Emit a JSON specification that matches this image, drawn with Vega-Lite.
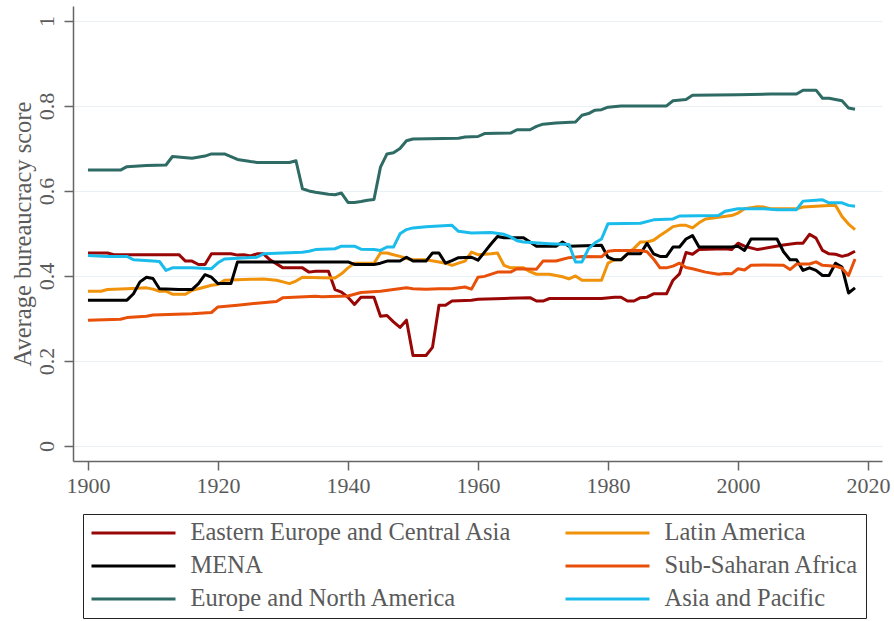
{
  "$schema": "https://vega.github.io/schema/vega-lite/v6.json",
  "width": 809,
  "height": 455,
  "autosize": "none",
  "padding": {"left": 73, "top": 6, "right": 12, "bottom": 160},
  "background": "white",
  "config": {
    "view": {"stroke": null},
    "font": "Liberation Serif"
  },
  "data": {"values": [
    {"region":"Eastern Europe and Central Asia","year":1900,"score":0.454},
    {"region":"Eastern Europe and Central Asia","year":1903,"score":0.454},
    {"region":"Eastern Europe and Central Asia","year":1904,"score":0.45},
    {"region":"Eastern Europe and Central Asia","year":1914,"score":0.45},
    {"region":"Eastern Europe and Central Asia","year":1915,"score":0.435},
    {"region":"Eastern Europe and Central Asia","year":1916,"score":0.435},
    {"region":"Eastern Europe and Central Asia","year":1917,"score":0.427},
    {"region":"Eastern Europe and Central Asia","year":1918,"score":0.427},
    {"region":"Eastern Europe and Central Asia","year":1919,"score":0.452},
    {"region":"Eastern Europe and Central Asia","year":1922,"score":0.452},
    {"region":"Eastern Europe and Central Asia","year":1923,"score":0.449},
    {"region":"Eastern Europe and Central Asia","year":1924,"score":0.45},
    {"region":"Eastern Europe and Central Asia","year":1925,"score":0.447},
    {"region":"Eastern Europe and Central Asia","year":1926,"score":0.452},
    {"region":"Eastern Europe and Central Asia","year":1927,"score":0.452},
    {"region":"Eastern Europe and Central Asia","year":1928,"score":0.438},
    {"region":"Eastern Europe and Central Asia","year":1930,"score":0.419},
    {"region":"Eastern Europe and Central Asia","year":1933,"score":0.419},
    {"region":"Eastern Europe and Central Asia","year":1934,"score":0.409},
    {"region":"Eastern Europe and Central Asia","year":1935,"score":0.411},
    {"region":"Eastern Europe and Central Asia","year":1937,"score":0.411},
    {"region":"Eastern Europe and Central Asia","year":1938,"score":0.368},
    {"region":"Eastern Europe and Central Asia","year":1939,"score":0.362},
    {"region":"Eastern Europe and Central Asia","year":1940,"score":0.35},
    {"region":"Eastern Europe and Central Asia","year":1941,"score":0.333},
    {"region":"Eastern Europe and Central Asia","year":1942,"score":0.35},
    {"region":"Eastern Europe and Central Asia","year":1944,"score":0.35},
    {"region":"Eastern Europe and Central Asia","year":1945,"score":0.305},
    {"region":"Eastern Europe and Central Asia","year":1946,"score":0.307},
    {"region":"Eastern Europe and Central Asia","year":1947,"score":0.292},
    {"region":"Eastern Europe and Central Asia","year":1948,"score":0.279},
    {"region":"Eastern Europe and Central Asia","year":1949,"score":0.296},
    {"region":"Eastern Europe and Central Asia","year":1950,"score":0.213},
    {"region":"Eastern Europe and Central Asia","year":1952,"score":0.213},
    {"region":"Eastern Europe and Central Asia","year":1953,"score":0.232},
    {"region":"Eastern Europe and Central Asia","year":1954,"score":0.331},
    {"region":"Eastern Europe and Central Asia","year":1955,"score":0.331},
    {"region":"Eastern Europe and Central Asia","year":1956,"score":0.341},
    {"region":"Eastern Europe and Central Asia","year":1959,"score":0.343},
    {"region":"Eastern Europe and Central Asia","year":1960,"score":0.345},
    {"region":"Eastern Europe and Central Asia","year":1964,"score":0.347},
    {"region":"Eastern Europe and Central Asia","year":1968,"score":0.349},
    {"region":"Eastern Europe and Central Asia","year":1969,"score":0.341},
    {"region":"Eastern Europe and Central Asia","year":1970,"score":0.341},
    {"region":"Eastern Europe and Central Asia","year":1971,"score":0.347},
    {"region":"Eastern Europe and Central Asia","year":1979,"score":0.347},
    {"region":"Eastern Europe and Central Asia","year":1981,"score":0.35},
    {"region":"Eastern Europe and Central Asia","year":1982,"score":0.35},
    {"region":"Eastern Europe and Central Asia","year":1983,"score":0.341},
    {"region":"Eastern Europe and Central Asia","year":1984,"score":0.341},
    {"region":"Eastern Europe and Central Asia","year":1985,"score":0.349},
    {"region":"Eastern Europe and Central Asia","year":1986,"score":0.35},
    {"region":"Eastern Europe and Central Asia","year":1987,"score":0.358},
    {"region":"Eastern Europe and Central Asia","year":1989,"score":0.358},
    {"region":"Eastern Europe and Central Asia","year":1990,"score":0.39},
    {"region":"Eastern Europe and Central Asia","year":1991,"score":0.405},
    {"region":"Eastern Europe and Central Asia","year":1992,"score":0.455},
    {"region":"Eastern Europe and Central Asia","year":1993,"score":0.451},
    {"region":"Eastern Europe and Central Asia","year":1994,"score":0.462},
    {"region":"Eastern Europe and Central Asia","year":1998,"score":0.464},
    {"region":"Eastern Europe and Central Asia","year":1999,"score":0.462},
    {"region":"Eastern Europe and Central Asia","year":2000,"score":0.477},
    {"region":"Eastern Europe and Central Asia","year":2001,"score":0.47},
    {"region":"Eastern Europe and Central Asia","year":2003,"score":0.462},
    {"region":"Eastern Europe and Central Asia","year":2007,"score":0.473},
    {"region":"Eastern Europe and Central Asia","year":2009,"score":0.477},
    {"region":"Eastern Europe and Central Asia","year":2010,"score":0.477},
    {"region":"Eastern Europe and Central Asia","year":2011,"score":0.498},
    {"region":"Eastern Europe and Central Asia","year":2012,"score":0.489},
    {"region":"Eastern Europe and Central Asia","year":2013,"score":0.46},
    {"region":"Eastern Europe and Central Asia","year":2014,"score":0.452},
    {"region":"Eastern Europe and Central Asia","year":2015,"score":0.451},
    {"region":"Eastern Europe and Central Asia","year":2016,"score":0.446},
    {"region":"Eastern Europe and Central Asia","year":2017,"score":0.45},
    {"region":"Eastern Europe and Central Asia","year":2018,"score":0.458},

    {"region":"Latin America","year":1900,"score":0.364},
    {"region":"Latin America","year":1902,"score":0.364},
    {"region":"Latin America","year":1903,"score":0.368},
    {"region":"Latin America","year":1906,"score":0.37},
    {"region":"Latin America","year":1909,"score":0.372},
    {"region":"Latin America","year":1910,"score":0.369},
    {"region":"Latin America","year":1911,"score":0.364},
    {"region":"Latin America","year":1912,"score":0.364},
    {"region":"Latin America","year":1913,"score":0.357},
    {"region":"Latin America","year":1915,"score":0.357},
    {"region":"Latin America","year":1916,"score":0.366},
    {"region":"Latin America","year":1917,"score":0.37},
    {"region":"Latin America","year":1919,"score":0.378},
    {"region":"Latin America","year":1920,"score":0.38},
    {"region":"Latin America","year":1921,"score":0.39},
    {"region":"Latin America","year":1925,"score":0.392},
    {"region":"Latin America","year":1927,"score":0.393},
    {"region":"Latin America","year":1929,"score":0.39},
    {"region":"Latin America","year":1930,"score":0.386},
    {"region":"Latin America","year":1931,"score":0.382},
    {"region":"Latin America","year":1932,"score":0.388},
    {"region":"Latin America","year":1933,"score":0.397},
    {"region":"Latin America","year":1936,"score":0.396},
    {"region":"Latin America","year":1938,"score":0.395},
    {"region":"Latin America","year":1939,"score":0.405},
    {"region":"Latin America","year":1940,"score":0.419},
    {"region":"Latin America","year":1941,"score":0.43},
    {"region":"Latin America","year":1944,"score":0.43},
    {"region":"Latin America","year":1945,"score":0.454},
    {"region":"Latin America","year":1946,"score":0.454},
    {"region":"Latin America","year":1947,"score":0.45},
    {"region":"Latin America","year":1948,"score":0.446},
    {"region":"Latin America","year":1949,"score":0.441},
    {"region":"Latin America","year":1950,"score":0.438},
    {"region":"Latin America","year":1952,"score":0.438},
    {"region":"Latin America","year":1954,"score":0.433},
    {"region":"Latin America","year":1955,"score":0.43},
    {"region":"Latin America","year":1956,"score":0.425},
    {"region":"Latin America","year":1957,"score":0.43},
    {"region":"Latin America","year":1958,"score":0.435},
    {"region":"Latin America","year":1959,"score":0.456},
    {"region":"Latin America","year":1960,"score":0.45},
    {"region":"Latin America","year":1962,"score":0.452},
    {"region":"Latin America","year":1963,"score":0.454},
    {"region":"Latin America","year":1964,"score":0.425},
    {"region":"Latin America","year":1965,"score":0.419},
    {"region":"Latin America","year":1967,"score":0.419},
    {"region":"Latin America","year":1968,"score":0.41},
    {"region":"Latin America","year":1969,"score":0.404},
    {"region":"Latin America","year":1971,"score":0.404},
    {"region":"Latin America","year":1973,"score":0.398},
    {"region":"Latin America","year":1974,"score":0.393},
    {"region":"Latin America","year":1975,"score":0.4},
    {"region":"Latin America","year":1976,"score":0.39},
    {"region":"Latin America","year":1979,"score":0.39},
    {"region":"Latin America","year":1980,"score":0.43},
    {"region":"Latin America","year":1981,"score":0.438},
    {"region":"Latin America","year":1982,"score":0.438},
    {"region":"Latin America","year":1983,"score":0.452},
    {"region":"Latin America","year":1984,"score":0.465},
    {"region":"Latin America","year":1985,"score":0.48},
    {"region":"Latin America","year":1986,"score":0.48},
    {"region":"Latin America","year":1987,"score":0.484},
    {"region":"Latin America","year":1988,"score":0.495},
    {"region":"Latin America","year":1989,"score":0.505},
    {"region":"Latin America","year":1990,"score":0.516},
    {"region":"Latin America","year":1991,"score":0.519},
    {"region":"Latin America","year":1992,"score":0.519},
    {"region":"Latin America","year":1993,"score":0.513},
    {"region":"Latin America","year":1994,"score":0.525},
    {"region":"Latin America","year":1995,"score":0.534},
    {"region":"Latin America","year":1997,"score":0.538},
    {"region":"Latin America","year":1999,"score":0.542},
    {"region":"Latin America","year":2000,"score":0.548},
    {"region":"Latin America","year":2001,"score":0.558},
    {"region":"Latin America","year":2003,"score":0.563},
    {"region":"Latin America","year":2004,"score":0.562},
    {"region":"Latin America","year":2005,"score":0.558},
    {"region":"Latin America","year":2009,"score":0.558},
    {"region":"Latin America","year":2010,"score":0.562},
    {"region":"Latin America","year":2014,"score":0.566},
    {"region":"Latin America","year":2015,"score":0.566},
    {"region":"Latin America","year":2016,"score":0.54},
    {"region":"Latin America","year":2017,"score":0.522},
    {"region":"Latin America","year":2018,"score":0.509},

    {"region":"MENA","year":1900,"score":0.343},
    {"region":"MENA","year":1906,"score":0.343},
    {"region":"MENA","year":1907,"score":0.358},
    {"region":"MENA","year":1908,"score":0.386},
    {"region":"MENA","year":1909,"score":0.397},
    {"region":"MENA","year":1910,"score":0.394},
    {"region":"MENA","year":1911,"score":0.37},
    {"region":"MENA","year":1914,"score":0.368},
    {"region":"MENA","year":1916,"score":0.368},
    {"region":"MENA","year":1917,"score":0.382},
    {"region":"MENA","year":1918,"score":0.403},
    {"region":"MENA","year":1919,"score":0.397},
    {"region":"MENA","year":1920,"score":0.382},
    {"region":"MENA","year":1922,"score":0.382},
    {"region":"MENA","year":1923,"score":0.433},
    {"region":"MENA","year":1940,"score":0.433},
    {"region":"MENA","year":1941,"score":0.427},
    {"region":"MENA","year":1944,"score":0.427},
    {"region":"MENA","year":1945,"score":0.43},
    {"region":"MENA","year":1946,"score":0.435},
    {"region":"MENA","year":1948,"score":0.435},
    {"region":"MENA","year":1949,"score":0.444},
    {"region":"MENA","year":1950,"score":0.435},
    {"region":"MENA","year":1952,"score":0.435},
    {"region":"MENA","year":1953,"score":0.454},
    {"region":"MENA","year":1954,"score":0.454},
    {"region":"MENA","year":1955,"score":0.43},
    {"region":"MENA","year":1956,"score":0.436},
    {"region":"MENA","year":1957,"score":0.443},
    {"region":"MENA","year":1959,"score":0.444},
    {"region":"MENA","year":1960,"score":0.437},
    {"region":"MENA","year":1961,"score":0.456},
    {"region":"MENA","year":1962,"score":0.475},
    {"region":"MENA","year":1963,"score":0.493},
    {"region":"MENA","year":1964,"score":0.49},
    {"region":"MENA","year":1967,"score":0.49},
    {"region":"MENA","year":1968,"score":0.48},
    {"region":"MENA","year":1969,"score":0.47},
    {"region":"MENA","year":1972,"score":0.47},
    {"region":"MENA","year":1973,"score":0.48},
    {"region":"MENA","year":1974,"score":0.47},
    {"region":"MENA","year":1979,"score":0.472},
    {"region":"MENA","year":1980,"score":0.444},
    {"region":"MENA","year":1981,"score":0.438},
    {"region":"MENA","year":1982,"score":0.438},
    {"region":"MENA","year":1983,"score":0.452},
    {"region":"MENA","year":1985,"score":0.452},
    {"region":"MENA","year":1986,"score":0.477},
    {"region":"MENA","year":1987,"score":0.452},
    {"region":"MENA","year":1988,"score":0.446},
    {"region":"MENA","year":1989,"score":0.446},
    {"region":"MENA","year":1990,"score":0.468},
    {"region":"MENA","year":1991,"score":0.468},
    {"region":"MENA","year":1992,"score":0.487},
    {"region":"MENA","year":1993,"score":0.495},
    {"region":"MENA","year":1994,"score":0.468},
    {"region":"MENA","year":1999,"score":0.468},
    {"region":"MENA","year":2000,"score":0.47},
    {"region":"MENA","year":2001,"score":0.46},
    {"region":"MENA","year":2002,"score":0.487},
    {"region":"MENA","year":2006,"score":0.487},
    {"region":"MENA","year":2007,"score":0.457},
    {"region":"MENA","year":2008,"score":0.438},
    {"region":"MENA","year":2009,"score":0.438},
    {"region":"MENA","year":2010,"score":0.413},
    {"region":"MENA","year":2011,"score":0.419},
    {"region":"MENA","year":2012,"score":0.413},
    {"region":"MENA","year":2013,"score":0.401},
    {"region":"MENA","year":2014,"score":0.401},
    {"region":"MENA","year":2015,"score":0.43},
    {"region":"MENA","year":2016,"score":0.421},
    {"region":"MENA","year":2017,"score":0.36},
    {"region":"MENA","year":2018,"score":0.372},

    {"region":"Sub-Saharan Africa","year":1900,"score":0.296},
    {"region":"Sub-Saharan Africa","year":1905,"score":0.298},
    {"region":"Sub-Saharan Africa","year":1906,"score":0.302},
    {"region":"Sub-Saharan Africa","year":1909,"score":0.305},
    {"region":"Sub-Saharan Africa","year":1910,"score":0.308},
    {"region":"Sub-Saharan Africa","year":1916,"score":0.311},
    {"region":"Sub-Saharan Africa","year":1919,"score":0.314},
    {"region":"Sub-Saharan Africa","year":1920,"score":0.327},
    {"region":"Sub-Saharan Africa","year":1923,"score":0.331},
    {"region":"Sub-Saharan Africa","year":1926,"score":0.336},
    {"region":"Sub-Saharan Africa","year":1929,"score":0.34},
    {"region":"Sub-Saharan Africa","year":1930,"score":0.349},
    {"region":"Sub-Saharan Africa","year":1935,"score":0.352},
    {"region":"Sub-Saharan Africa","year":1936,"score":0.351},
    {"region":"Sub-Saharan Africa","year":1940,"score":0.353},
    {"region":"Sub-Saharan Africa","year":1942,"score":0.361},
    {"region":"Sub-Saharan Africa","year":1945,"score":0.364},
    {"region":"Sub-Saharan Africa","year":1947,"score":0.368},
    {"region":"Sub-Saharan Africa","year":1949,"score":0.372},
    {"region":"Sub-Saharan Africa","year":1950,"score":0.37},
    {"region":"Sub-Saharan Africa","year":1952,"score":0.369},
    {"region":"Sub-Saharan Africa","year":1954,"score":0.37},
    {"region":"Sub-Saharan Africa","year":1956,"score":0.37},
    {"region":"Sub-Saharan Africa","year":1958,"score":0.374},
    {"region":"Sub-Saharan Africa","year":1959,"score":0.369},
    {"region":"Sub-Saharan Africa","year":1960,"score":0.397},
    {"region":"Sub-Saharan Africa","year":1961,"score":0.399},
    {"region":"Sub-Saharan Africa","year":1963,"score":0.409},
    {"region":"Sub-Saharan Africa","year":1965,"score":0.409},
    {"region":"Sub-Saharan Africa","year":1966,"score":0.417},
    {"region":"Sub-Saharan Africa","year":1969,"score":0.416},
    {"region":"Sub-Saharan Africa","year":1970,"score":0.435},
    {"region":"Sub-Saharan Africa","year":1972,"score":0.435},
    {"region":"Sub-Saharan Africa","year":1974,"score":0.443},
    {"region":"Sub-Saharan Africa","year":1976,"score":0.446},
    {"region":"Sub-Saharan Africa","year":1979,"score":0.445},
    {"region":"Sub-Saharan Africa","year":1980,"score":0.458},
    {"region":"Sub-Saharan Africa","year":1981,"score":0.46},
    {"region":"Sub-Saharan Africa","year":1985,"score":0.46},
    {"region":"Sub-Saharan Africa","year":1986,"score":0.457},
    {"region":"Sub-Saharan Africa","year":1987,"score":0.44},
    {"region":"Sub-Saharan Africa","year":1988,"score":0.419},
    {"region":"Sub-Saharan Africa","year":1989,"score":0.419},
    {"region":"Sub-Saharan Africa","year":1990,"score":0.423},
    {"region":"Sub-Saharan Africa","year":1991,"score":0.43},
    {"region":"Sub-Saharan Africa","year":1992,"score":0.42},
    {"region":"Sub-Saharan Africa","year":1993,"score":0.417},
    {"region":"Sub-Saharan Africa","year":1995,"score":0.409},
    {"region":"Sub-Saharan Africa","year":1997,"score":0.404},
    {"region":"Sub-Saharan Africa","year":1998,"score":0.406},
    {"region":"Sub-Saharan Africa","year":1999,"score":0.405},
    {"region":"Sub-Saharan Africa","year":2000,"score":0.417},
    {"region":"Sub-Saharan Africa","year":2001,"score":0.414},
    {"region":"Sub-Saharan Africa","year":2002,"score":0.425},
    {"region":"Sub-Saharan Africa","year":2004,"score":0.426},
    {"region":"Sub-Saharan Africa","year":2007,"score":0.425},
    {"region":"Sub-Saharan Africa","year":2008,"score":0.415},
    {"region":"Sub-Saharan Africa","year":2009,"score":0.428},
    {"region":"Sub-Saharan Africa","year":2011,"score":0.428},
    {"region":"Sub-Saharan Africa","year":2012,"score":0.433},
    {"region":"Sub-Saharan Africa","year":2013,"score":0.425},
    {"region":"Sub-Saharan Africa","year":2015,"score":0.423},
    {"region":"Sub-Saharan Africa","year":2016,"score":0.418},
    {"region":"Sub-Saharan Africa","year":2017,"score":0.401},
    {"region":"Sub-Saharan Africa","year":2018,"score":0.44},

    {"region":"Europe and North America","year":1900,"score":0.649},
    {"region":"Europe and North America","year":1905,"score":0.649},
    {"region":"Europe and North America","year":1906,"score":0.657},
    {"region":"Europe and North America","year":1909,"score":0.66},
    {"region":"Europe and North America","year":1912,"score":0.661},
    {"region":"Europe and North America","year":1913,"score":0.681},
    {"region":"Europe and North America","year":1916,"score":0.677},
    {"region":"Europe and North America","year":1918,"score":0.682},
    {"region":"Europe and North America","year":1919,"score":0.687},
    {"region":"Europe and North America","year":1921,"score":0.687},
    {"region":"Europe and North America","year":1923,"score":0.674},
    {"region":"Europe and North America","year":1925,"score":0.669},
    {"region":"Europe and North America","year":1926,"score":0.667},
    {"region":"Europe and North America","year":1931,"score":0.667},
    {"region":"Europe and North America","year":1932,"score":0.671},
    {"region":"Europe and North America","year":1933,"score":0.605},
    {"region":"Europe and North America","year":1934,"score":0.6},
    {"region":"Europe and North America","year":1935,"score":0.597},
    {"region":"Europe and North America","year":1937,"score":0.592},
    {"region":"Europe and North America","year":1938,"score":0.591},
    {"region":"Europe and North America","year":1939,"score":0.595},
    {"region":"Europe and North America","year":1940,"score":0.573},
    {"region":"Europe and North America","year":1941,"score":0.573},
    {"region":"Europe and North America","year":1942,"score":0.575},
    {"region":"Europe and North America","year":1943,"score":0.578},
    {"region":"Europe and North America","year":1944,"score":0.58},
    {"region":"Europe and North America","year":1945,"score":0.656},
    {"region":"Europe and North America","year":1946,"score":0.687},
    {"region":"Europe and North America","year":1947,"score":0.69},
    {"region":"Europe and North America","year":1948,"score":0.7},
    {"region":"Europe and North America","year":1949,"score":0.718},
    {"region":"Europe and North America","year":1950,"score":0.722},
    {"region":"Europe and North America","year":1957,"score":0.724},
    {"region":"Europe and North America","year":1958,"score":0.727},
    {"region":"Europe and North America","year":1960,"score":0.728},
    {"region":"Europe and North America","year":1961,"score":0.735},
    {"region":"Europe and North America","year":1965,"score":0.736},
    {"region":"Europe and North America","year":1966,"score":0.744},
    {"region":"Europe and North America","year":1968,"score":0.744},
    {"region":"Europe and North America","year":1969,"score":0.752},
    {"region":"Europe and North America","year":1970,"score":0.757},
    {"region":"Europe and North America","year":1972,"score":0.76},
    {"region":"Europe and North America","year":1975,"score":0.762},
    {"region":"Europe and North America","year":1976,"score":0.778},
    {"region":"Europe and North America","year":1977,"score":0.782},
    {"region":"Europe and North America","year":1978,"score":0.79},
    {"region":"Europe and North America","year":1979,"score":0.791},
    {"region":"Europe and North America","year":1980,"score":0.797},
    {"region":"Europe and North America","year":1982,"score":0.8},
    {"region":"Europe and North America","year":1989,"score":0.8},
    {"region":"Europe and North America","year":1990,"score":0.812},
    {"region":"Europe and North America","year":1992,"score":0.815},
    {"region":"Europe and North America","year":1993,"score":0.825},
    {"region":"Europe and North America","year":2000,"score":0.826},
    {"region":"Europe and North America","year":2005,"score":0.828},
    {"region":"Europe and North America","year":2009,"score":0.828},
    {"region":"Europe and North America","year":2010,"score":0.837},
    {"region":"Europe and North America","year":2012,"score":0.837},
    {"region":"Europe and North America","year":2013,"score":0.818},
    {"region":"Europe and North America","year":2014,"score":0.818},
    {"region":"Europe and North America","year":2016,"score":0.812},
    {"region":"Europe and North America","year":2017,"score":0.795},
    {"region":"Europe and North America","year":2018,"score":0.792},

    {"region":"Asia and Pacific","year":1900,"score":0.448},
    {"region":"Asia and Pacific","year":1903,"score":0.446},
    {"region":"Asia and Pacific","year":1906,"score":0.446},
    {"region":"Asia and Pacific","year":1907,"score":0.438},
    {"region":"Asia and Pacific","year":1910,"score":0.435},
    {"region":"Asia and Pacific","year":1911,"score":0.434},
    {"region":"Asia and Pacific","year":1912,"score":0.413},
    {"region":"Asia and Pacific","year":1913,"score":0.419},
    {"region":"Asia and Pacific","year":1916,"score":0.419},
    {"region":"Asia and Pacific","year":1919,"score":0.417},
    {"region":"Asia and Pacific","year":1920,"score":0.431},
    {"region":"Asia and Pacific","year":1921,"score":0.44},
    {"region":"Asia and Pacific","year":1926,"score":0.444},
    {"region":"Asia and Pacific","year":1927,"score":0.452},
    {"region":"Asia and Pacific","year":1933,"score":0.456},
    {"region":"Asia and Pacific","year":1934,"score":0.458},
    {"region":"Asia and Pacific","year":1935,"score":0.462},
    {"region":"Asia and Pacific","year":1938,"score":0.464},
    {"region":"Asia and Pacific","year":1939,"score":0.47},
    {"region":"Asia and Pacific","year":1941,"score":0.47},
    {"region":"Asia and Pacific","year":1942,"score":0.463},
    {"region":"Asia and Pacific","year":1944,"score":0.462},
    {"region":"Asia and Pacific","year":1945,"score":0.46},
    {"region":"Asia and Pacific","year":1946,"score":0.468},
    {"region":"Asia and Pacific","year":1947,"score":0.468},
    {"region":"Asia and Pacific","year":1948,"score":0.499},
    {"region":"Asia and Pacific","year":1949,"score":0.509},
    {"region":"Asia and Pacific","year":1950,"score":0.513},
    {"region":"Asia and Pacific","year":1952,"score":0.516},
    {"region":"Asia and Pacific","year":1956,"score":0.519},
    {"region":"Asia and Pacific","year":1957,"score":0.505},
    {"region":"Asia and Pacific","year":1959,"score":0.501},
    {"region":"Asia and Pacific","year":1962,"score":0.502},
    {"region":"Asia and Pacific","year":1964,"score":0.498},
    {"region":"Asia and Pacific","year":1965,"score":0.492},
    {"region":"Asia and Pacific","year":1966,"score":0.483},
    {"region":"Asia and Pacific","year":1967,"score":0.48},
    {"region":"Asia and Pacific","year":1971,"score":0.476},
    {"region":"Asia and Pacific","year":1974,"score":0.474},
    {"region":"Asia and Pacific","year":1975,"score":0.433},
    {"region":"Asia and Pacific","year":1976,"score":0.433},
    {"region":"Asia and Pacific","year":1977,"score":0.464},
    {"region":"Asia and Pacific","year":1978,"score":0.478},
    {"region":"Asia and Pacific","year":1979,"score":0.487},
    {"region":"Asia and Pacific","year":1980,"score":0.523},
    {"region":"Asia and Pacific","year":1985,"score":0.524},
    {"region":"Asia and Pacific","year":1987,"score":0.532},
    {"region":"Asia and Pacific","year":1990,"score":0.534},
    {"region":"Asia and Pacific","year":1991,"score":0.541},
    {"region":"Asia and Pacific","year":1997,"score":0.542},
    {"region":"Asia and Pacific","year":1998,"score":0.552},
    {"region":"Asia and Pacific","year":2000,"score":0.558},
    {"region":"Asia and Pacific","year":2004,"score":0.558},
    {"region":"Asia and Pacific","year":2006,"score":0.556},
    {"region":"Asia and Pacific","year":2009,"score":0.556},
    {"region":"Asia and Pacific","year":2010,"score":0.576},
    {"region":"Asia and Pacific","year":2012,"score":0.578},
    {"region":"Asia and Pacific","year":2013,"score":0.579},
    {"region":"Asia and Pacific","year":2014,"score":0.572},
    {"region":"Asia and Pacific","year":2016,"score":0.572},
    {"region":"Asia and Pacific","year":2017,"score":0.566},
    {"region":"Asia and Pacific","year":2018,"score":0.564}
  ]},
  "mark": {"type": "line", "strokeWidth": 3, "strokeJoin": "round"},
  "encoding": {
    "x": {
      "field": "year", "type": "quantitative",
      "scale": {"domain": [1897.7, 2022.15], "nice": false, "zero": false},
      "axis": {
        "values": [1900, 1920, 1940, 1960, 1980, 2000, 2020],
        "format": "d", "title": null, "grid": false,
        "domainColor": "#666666", "domainWidth": 1.5,
        "tickColor": "#666666", "tickWidth": 1.5, "tickSize": 9,
        "labelFont": "Liberation Serif", "labelFontSize": 22, "labelColor": "#5a5a5a",
        "labelPadding": 5, "labelFlush": false
      }
    },
    "y": {
      "field": "score", "type": "quantitative",
      "scale": {"domain": [-0.0353, 1.035], "nice": false, "zero": false},
      "axis": {
        "values": [0, 0.2, 0.4, 0.6, 0.8, 1],
        "format": "~g",
        "title": "Average bureaucracy score",
        "titleFont": "Liberation Serif", "titleFontSize": 24.5, "titleFontWeight": "normal",
        "titleColor": "#5a5a5a", "titleAngle": 270, "titleAlign": "center",
        "titleBaseline": "alphabetic", "titleX": -43, "titleY": 227.5,
        "grid": true, "gridColor": "#EAF0F3", "gridWidth": 1.2,
        "domainColor": "#666666", "domainWidth": 1.5,
        "tickColor": "#666666", "tickWidth": 1.5, "tickSize": 9,
        "labelFont": "Liberation Serif", "labelFontSize": 22, "labelColor": "#5a5a5a",
        "labelAngle": 270, "labelAlign": "center", "labelBaseline": "alphabetic",
        "labelPadding": 11, "labelFlush": false
      }
    },
    "color": {
      "field": "region", "type": "nominal",
      "scale": {
        "domain": ["Eastern Europe and Central Asia", "Latin America", "MENA", "Sub-Saharan Africa", "Europe and North America", "Asia and Pacific"],
        "range": ["#990606", "#F0920A", "#000000", "#E8500A", "#2E6B65", "#1ABCEB"]
      },
      "legend": {
        "title": null, "orient": "none", "legendX": 10, "legendY": 508,
        "columns": 2, "direction": "horizontal",
        "symbolType": "stroke", "symbolSize": 7056, "symbolStrokeWidth": 3,
        "clipHeight": 24, "rowPadding": 8, "columnPadding": 52,
        "labelFont": "Liberation Serif", "labelFontSize": 24.5, "labelColor": "#5a5a5a",
        "labelLimit": 500, "labelOffset": 13.5,
        "padding": 7, "strokeColor": "#222222", "fillColor": "white"
      }
    }
  }
}
